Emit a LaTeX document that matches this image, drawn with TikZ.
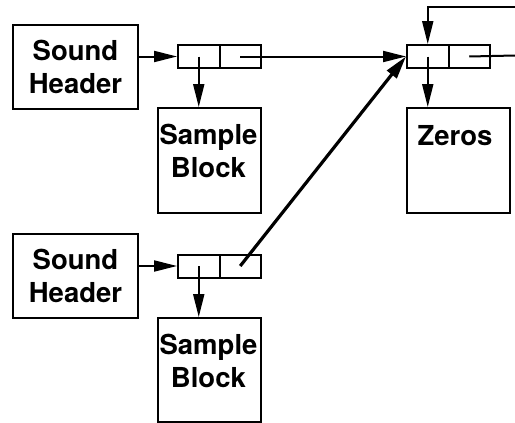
\documentclass[tikz,border=0pt]{standalone}
\usepackage{fontspec}
\setmainfont{TeX Gyre Heros}
\usetikzlibrary{arrows.meta}
\begin{document}
\begin{tikzpicture}[x=1pt,y=-1pt,
  box/.style={draw,line width=2pt,inner sep=0pt,anchor=north west},
  cellbox/.style={draw,line width=2pt,inner sep=0pt,minimum width=41.5pt,minimum height=23pt,anchor=north west},
  lbl/.style={font=\fontsize{27.5}{32.5}\selectfont\bfseries,align=center,inner sep=0pt},
  ptr/.style={line width=2pt,-{Triangle[length=23pt,width=11pt]}},
  thickptr/.style={line width=3.2pt,-{Triangle[length=23pt,width=12pt]}},
  plain/.style={line width=2pt}]
\useasboundingbox (0,0) rectangle (515,423);
% top row
\node[box,minimum width=125pt,minimum height=84pt] (sh1) at (12,24) {};
\node[lbl] (sh1t) at (sh1.center) {Sound\\Header};
\node[cellbox] (c1a) at (177,44) {};
\node[cellbox] (c1b) at (218.5,44) {};
\node[box,minimum width=103pt,minimum height=105pt] (sb1) at (157,107) {};
\node[lbl,anchor=base] (sb1t) at (208.5,177) {Sample\\Block};
% right column
\node[cellbox] (c2a) at (406,44) {};
\node[cellbox] (c2b) at (447.5,44) {};
\node[box,minimum width=103pt,minimum height=105pt] (z) at (406,107) {};
\node[lbl,anchor=base] (zt) at (455,145) {Zeros};
% bottom row
\node[box,minimum width=125pt,minimum height=84pt] (sh2) at (12,233) {};
\node[lbl] (sh2t) at (sh2.center) {Sound\\Header};
\node[cellbox] (c3a) at (177,253.5) {};
\node[cellbox] (c3b) at (218.5,253.5) {};
\node[box,minimum width=103pt,minimum height=104pt] (sb2) at (157,317) {};
\node[lbl,anchor=base] (sb2t) at (208.5,387) {Sample\\Block};
% free ends
\coordinate (topR) at (515,7);
\coordinate (midR) at (515,55.5);
% connectors
\draw[ptr] (sh1.east |- c1a.west) -- (c1a.west);
\draw[ptr] (c1a.center) -- (c1a.center |- sb1.north);
\draw[ptr] (c1b.center) -- (c2a.west);
\draw[ptr] (topR) -| (c2a.north);
\draw[ptr] (c2a.center) -- (c2a.center |- z.north);
\draw[plain] (c2b.center) -- (midR);
\draw[ptr] (sh2.east |- c3a.west) -- (c3a.west);
\draw[ptr] (c3a.center) -- (c3a.center |- sb2.north);
\draw[thickptr] (c3b.center) -- (c2a.west);
\end{tikzpicture}
\end{document}
